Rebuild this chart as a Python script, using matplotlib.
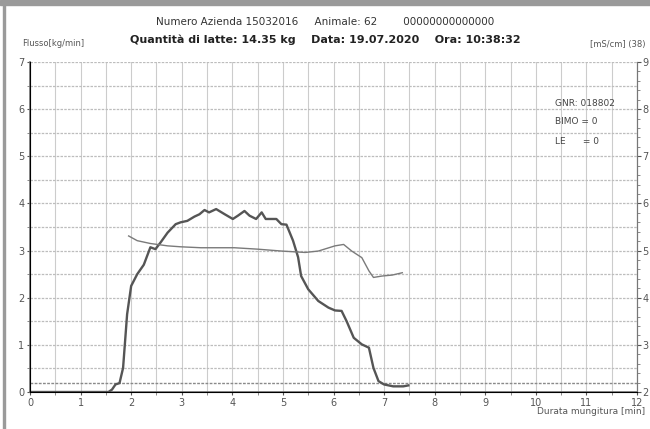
import matplotlib.pyplot as plt
import numpy as np

# flusso latte [kg/min]
flusso_t = [0, 1.55, 1.62, 1.69, 1.77, 1.84, 1.92, 2.0, 2.12, 2.25, 2.38, 2.48, 2.58, 2.72, 2.88,
            2.98, 3.11, 3.25, 3.35, 3.45, 3.54, 3.68, 3.85, 4.01, 4.11, 4.24, 4.34, 4.47, 4.58,
            4.66, 4.87, 4.97, 5.07, 5.2, 5.3, 5.36, 5.5, 5.7, 5.9, 6.03, 6.16, 6.26, 6.4, 6.56,
            6.7, 6.79, 6.89, 7.0, 7.18, 7.38, 7.48]
flusso = [0, 0, 0.05, 0.16, 0.19, 0.51, 1.65, 2.25, 2.5, 2.7, 3.07, 3.03, 3.17, 3.38, 3.56,
          3.6, 3.63, 3.72, 3.77, 3.86, 3.81, 3.88, 3.77, 3.67, 3.74, 3.84, 3.74, 3.67, 3.81,
          3.67, 3.67, 3.56, 3.55, 3.21, 2.86, 2.46, 2.18, 1.93, 1.79, 1.73, 1.72, 1.5, 1.15, 1.01,
          0.94, 0.51, 0.23, 0.16, 0.12, 0.12, 0.14]

# conducibilita [mS/cm]
cond_t = [1.95, 2.12, 2.38, 2.72, 2.98, 3.38, 4.04, 4.5, 4.97, 5.44, 5.7, 6.03, 6.2, 6.36,
          6.56, 6.7, 6.79, 6.96, 7.16, 7.36]
cond = [5.31, 5.21, 5.15, 5.1, 5.08, 5.06, 5.06, 5.03, 4.99, 4.96, 4.99, 5.1, 5.13, 4.99,
        4.85, 4.57, 4.43, 4.46, 4.48, 4.53]

soglia = 0.2

fig = plt.figure(figsize=(6.5, 4.29), dpi=100)
fig.patch.set_facecolor('white')
ax = fig.add_axes([30/650, 1-392/429, 607/650, 330/429])
ax.set_xlim(0, 12)
ax.set_ylim(0, 7)
ax.set_xticks(np.arange(0, 13, 1))
ax.set_xticks(np.arange(0, 12.5, 0.5), minor=True)
ax.set_yticks(np.arange(0, 8, 1))
ax.set_yticks(np.arange(0, 7.5, 0.5), minor=True)
ax.grid(True, axis='x', which='both', color='#cccccc', linewidth=0.8)
ax.grid(True, axis='y', which='both', color='#bdbdbd', linewidth=0.9, linestyle=(0, (2, 1)))
ax.axhline(soglia, color='#8a8a8a', linewidth=1.0, linestyle=(0, (2, 1)))
for s in ['left', 'bottom']:
    ax.spines[s].set_color('#777777')
    ax.spines[s].set_linewidth(1.2)
ax.spines['top'].set_visible(False)
ax.spines['right'].set_color('#777777')
ax.tick_params(colors='#555555', labelsize=7, length=2, pad=2)
ax.tick_params(which='minor', length=2, color='#777777')

ax.plot(flusso_t, flusso, color='#555555', linewidth=1.7, zorder=5)

ax2 = ax.twinx()
ax2.set_ylim(2, 9)
ax2.set_yticks(np.arange(2, 10, 1))
ax2.set_yticks(np.arange(2, 9.01, 0.2), minor=True)
ax2.tick_params(colors='#555555', labelsize=7, length=3, pad=1)
ax2.tick_params(which='minor', length=2, color='#777777')
ax2.spines['top'].set_visible(False)
ax2.spines['right'].set_color('#777777')
ax2.plot(cond_t, cond, color='#7a7a7a', linewidth=1.0)

# cornice grigia
fig.add_artist(plt.Rectangle((0, 1-5/429), 1, 5/429, color='#9a9a9a', transform=fig.transFigure))
fig.add_artist(plt.Rectangle((3/650, 0), 2/650, 1, color='#9a9a9a', transform=fig.transFigure))

fig.text(325/650, 1-22/429, 'Numero Azienda 15032016     Animale: 62        00000000000000',
         ha='center', va='center', fontsize=7.5, color='#333333')
fig.text(325/650, 1-40/429, 'Quantità di latte: 14.35 kg    Data: 19.07.2020    Ora: 10:38:32',
         ha='center', va='center', fontsize=8, fontweight='bold', color='#222222')
fig.text(22/650, 1-44/429, 'Flusso[kg/min]', ha='left', va='center', fontsize=6, color='#555555')
fig.text(645/650, 1-44/429, '[mS/cm] (38)', ha='right', va='center', fontsize=6, color='#555555')
fig.text(645/650, 1-411/429, 'Durata mungitura [min]', ha='right', va='center', fontsize=6.5, color='#555555')

fig.text(555/650, 1-103/429, 'GNR: 018802', ha='left', va='center', fontsize=6.5, color='#444444')
fig.text(555/650, 1-122/429, 'BIMO = 0', ha='left', va='center', fontsize=6.5, color='#444444')
fig.text(555/650, 1-141/429, 'LE      = 0', ha='left', va='center', fontsize=6.5, color='#444444')

fig.savefig('out.png', dpi=100)
